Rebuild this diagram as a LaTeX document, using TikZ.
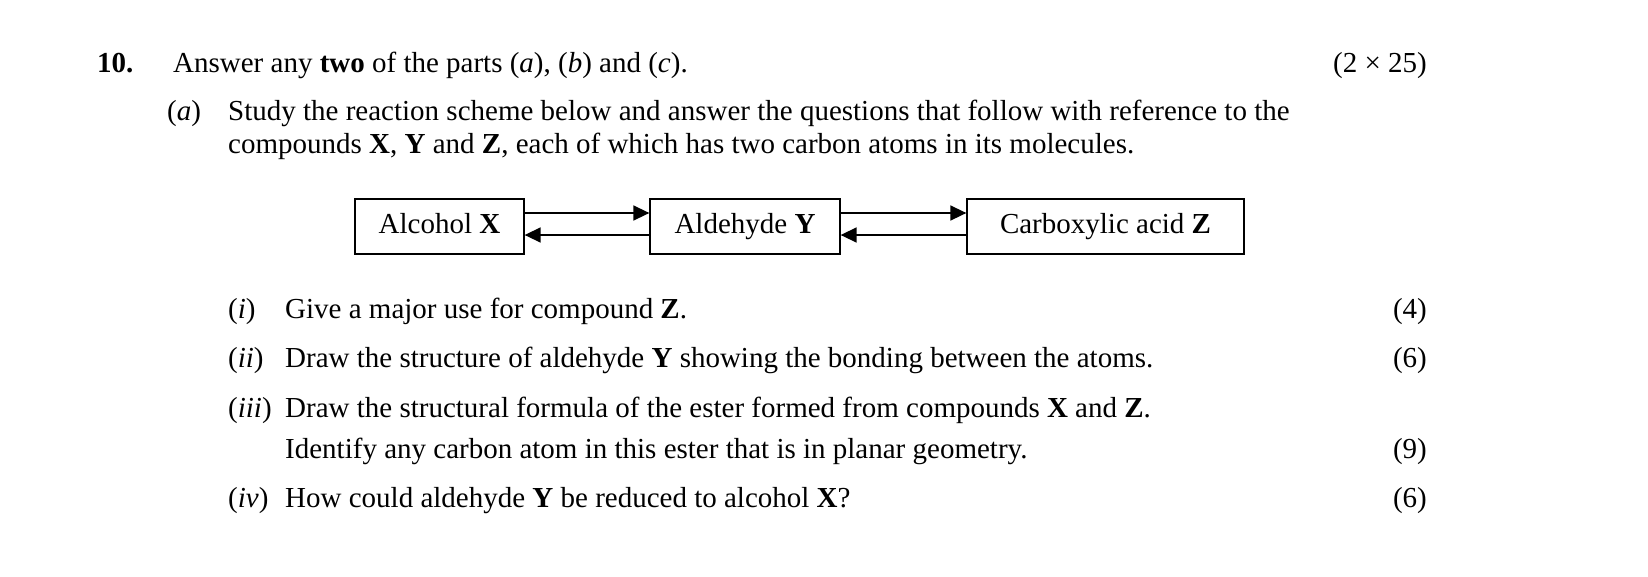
\documentclass[tikz,border=0pt]{standalone}
\usepackage{fontspec}
\setmainfont{Liberation Serif}
\usetikzlibrary{arrows.meta}
\begin{document}
\begin{tikzpicture}[x=1pt,y=-1pt,
  t/.style={anchor=base west,inner sep=0pt,font=\fontsize{29}{34}\selectfont},
  r/.style={anchor=base east,inner sep=0pt,font=\fontsize{29}{34}\selectfont},
  bx/.style={draw,line width=1.3pt,minimum height=55pt,inner sep=0pt,text height=20pt,text depth=6pt,font=\fontsize{29}{34}\selectfont},
  ar/.style={line width=1.6pt,-{Triangle[length=16pt,width=15pt]}}]
\useasboundingbox (0,0) rectangle (1648,576);
\node[t] (n10) at (97,72) {\textbf{10.}};
\node[t] (q) at (173,72) {Answer any \textbf{two} of the parts (\textit{a}), (\textit{b}) and (\textit{c}).};
\node[r] (m) at (1427,72) {(2 × 25)};
\node[t] (a) at (167,120) {(\textit{a})};
\node[t] (a1) at (228,120) {Study the reaction scheme below and answer the questions that follow with reference to the};
\node[t] (a2) at (228,153) {compounds \textbf{X}, \textbf{Y} and \textbf{Z}, each of which has two carbon atoms in its molecules.};
\node[bx,minimum width=169pt] (X) at (439.5,226.5) {Alcohol \textbf{X}};
\node[bx,minimum width=190pt] (Y) at (745,226.5) {Aldehyde \textbf{Y}};
\node[bx,minimum width=277pt] (Z) at (1105.5,226.5) {Carboxylic acid \textbf{Z}};
\draw[ar] ([yshift=13.5pt]X.east) -- ([yshift=13.5pt]Y.west);
\draw[ar] ([yshift=-8.5pt]Y.west) -- ([yshift=-8.5pt]X.east);
\draw[ar] ([yshift=13.5pt]Y.east) -- ([yshift=13.5pt]Z.west);
\draw[ar] ([yshift=-8.5pt]Z.west) -- ([yshift=-8.5pt]Y.east);
\node[t] (i) at (228,318) {(\textit{i})};
\node[t] (it) at (285,318) {Give a major use for compound \textbf{Z}.};
\node[r] (im) at (1427,318) {(4)};
\node[t] (ii) at (228,367) {(\textit{ii})};
\node[t] (iit) at (285,367) {Draw the structure of aldehyde \textbf{Y} showing the bonding between the atoms.};
\node[r] (iim) at (1427,367) {(6)};
\node[t] (iii) at (228,417) {(\textit{iii})};
\node[t] (iiit) at (285,417) {Draw the structural formula of the ester formed from compounds \textbf{X} and \textbf{Z}.};
\node[t] (iiit2) at (285,458) {Identify any carbon atom in this ester that is in planar geometry.};
\node[r] (iiim) at (1427,458) {(9)};
\node[t] (iv) at (228,507) {(\textit{iv})};
\node[t] (ivt) at (285,507) {How could aldehyde \textbf{Y} be reduced to alcohol \textbf{X}?};
\node[r] (ivm) at (1427,507) {(6)};
\end{tikzpicture}
\end{document}
